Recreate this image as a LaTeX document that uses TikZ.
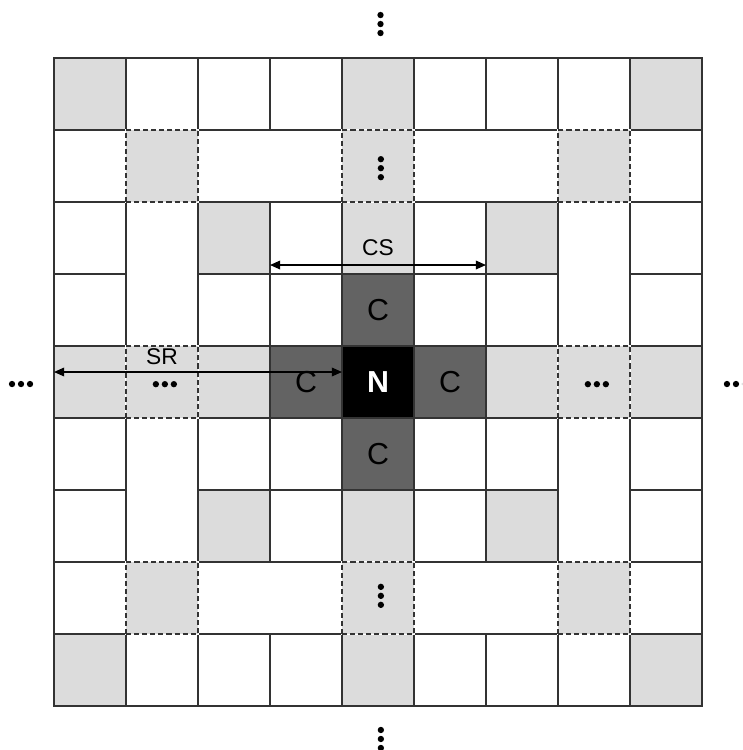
\documentclass[tikz,border=0pt]{standalone}
\usepackage{fontspec}
\setmainfont{Liberation Sans}
\usetikzlibrary{arrows.meta,calc}
\definecolor{Grid}{HTML}{333333}
\definecolor{Light}{HTML}{DCDCDC}
\definecolor{Dark}{HTML}{636363}
\tikzset{
  cell/.style={draw=Grid,line width=0.6pt,fill=white,minimum size=1cm,inner sep=0pt,outer sep=0pt},
  lightcell/.style={cell,fill=Light},
  darkcell/.style={cell,fill=Dark,font=\fontsize{12}{14}\selectfont},
  corecell/.style={cell,fill=black,text=white,font=\fontsize{12}{14}\selectfont\bfseries},
  dashcell/.style={cell,fill=Light,dash pattern=on 2pt off 1.2pt,preaction={draw=white,solid,line width=0.9pt}},
  dim/.style={{Triangle[length=4pt,width=3.4pt]}-{Triangle[length=4pt,width=3.4pt]},line width=0.6pt,draw=black},
  dimlabel/.style={font=\fontsize{9}{10}\selectfont,inner sep=2pt},
  hdots/.pic={\foreach \t in {-1,0,1} \fill (\t*0.125,0) circle (0.044);},
  vdots/.pic={\foreach \t in {-1,0,1} \fill (0,\t*0.125) circle (0.044);}
}
\begin{document}
\begin{tikzpicture}
  \useasboundingbox (-0.75,-9.611) rectangle (9.556,0.806);
  \clip (-0.75,-9.611) rectangle (9.556,0.806);
  \foreach \k in {0,...,8} \foreach \i in {0,...,8} \node[cell] (c-\i-\k) at (\i+0.5,-\k-0.5) {};
  \foreach \i/\k in {2/1,5/1,2/7,5/7} \node[cell,minimum width=2cm] (m-\i-\k) at (c-\i-\k.east) {};
  \foreach \i/\k in {1/2,7/2,1/5,7/5} \node[cell,minimum height=2cm] (m-\i-\k) at (c-\i-\k.south) {};
  \foreach \i/\k in {0/0,4/0,8/0,2/2,4/2,6/2,0/4,2/4,6/4,8/4,2/6,4/6,6/6,0/8,4/8,8/8} \node[lightcell] (g-\i-\k) at (c-\i-\k) {};
  \foreach \i/\k in {4/3,3/4,5/4,4/5} \node[darkcell] (C-\i-\k) at (c-\i-\k) {C};
  \node[corecell] (N) at (c-4-4) {N};
  \foreach \i/\k in {1/1,4/1,7/1,1/4,7/4,1/7,4/7,7/7} \node[dashcell] (d-\i-\k) at (c-\i-\k) {};
  \pic at ($(d-4-1)+(0.04,-0.03)$) {vdots};
  \pic at ($(d-4-7)+(0.04,0.03)$) {vdots};
  \pic at ($(d-1-4)+(0.04,-0.03)$) {hdots};
  \pic at ($(d-7-4)+(0.04,-0.03)$) {hdots};
  \pic at ($(c-4-0)+(0.035,0.972)$) {vdots};
  \pic at ($(c-4-8)+(0.04,-0.958)$) {vdots};
  \pic at ($(c-0-4)+(-0.958,-0.028)$) {hdots};
  \pic at ($(c-8-4)+(0.972,-0.028)$) {hdots};
  \coordinate (cs-a) at ($(c-3-2.south west)+(0,0.125)$);
  \coordinate (cs-b) at ($(c-6-2.south west)+(0,0.125)$);
  \draw[dim] (cs-a) -- node[dimlabel,above=1.5pt] (cs) {CS} (cs-b);
  \coordinate (sr-a) at ($(c-0-4.west)+(0,0.139)$);
  \coordinate (sr-b) at ($(N.west)+(0,0.139)$);
  \draw[dim] (sr-a) -- node[dimlabel,pos=0.375,above=0.5pt] (sr) {SR} (sr-b);
\end{tikzpicture}
\end{document}
